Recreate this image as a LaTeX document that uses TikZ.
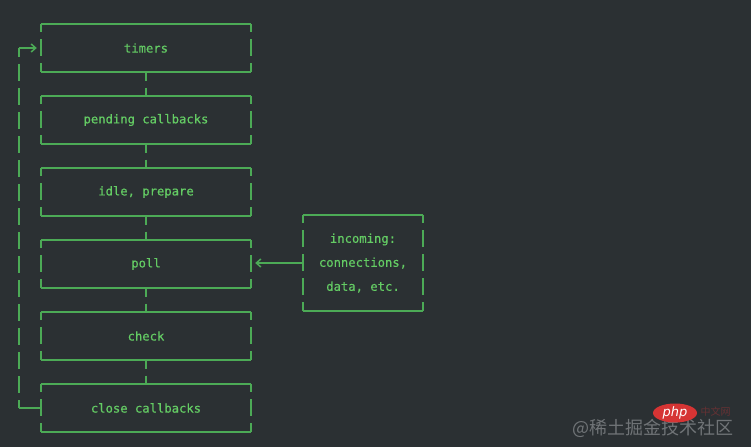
\documentclass[tikz,border=0pt]{standalone}
\usepackage{fontspec}
\newfontfamily\monofont[FakeBold=0.35]{DejaVu Sans Mono}
\newfontfamily\cjkfont{Noto Sans CJK SC}
\newfontfamily\logofont{DejaVu Sans}
\usetikzlibrary{arrows.meta,shapes.geometric}
\definecolor{bgcol}{RGB}{43,48,51}
\definecolor{linecol}{RGB}{76,170,86}
\definecolor{textcol}{RGB}{100,204,100}
\definecolor{wmgray}{RGB}{112,116,119}
\definecolor{phpred}{RGB}{214,52,52}
\tikzset{
  frame/.style={draw=linecol, line width=2pt},
  sidedash/.style={draw=linecol, line width=2pt, dash pattern=on 17pt off 7pt, dash phase=8.5pt},
  stage/.style={draw=none, minimum width=210pt, minimum height=48pt, inner sep=0pt,
    text=textcol, font=\monofont\fontsize{12.2}{24}\selectfont},
  srcbox/.style={draw=none, minimum width=120pt, minimum height=96pt, inner sep=0pt,
    text=textcol, align=center, font=\monofont\fontsize{12.2}{24}\selectfont},
  chevron/.style={-{Straight Barb[length=4.5pt,width=8pt,line width=1.5pt]}}
}
\begin{document}
\begin{tikzpicture}[x=1pt,y=-1pt]
\fill[bgcol] (0,0) rectangle (751,447);
\useasboundingbox (0,0) rectangle (751,447);

\node[stage] (timers)  at (146,48)  {timers};
\node[stage] (pending) at (146,120) {pending callbacks};
\node[stage] (idle)    at (146,192) {idle, prepare};
\node[stage] (poll)    at (146,264) {poll};
\node[stage] (check)   at (146,336) {check};
\node[stage] (close)   at (146,408) {close callbacks};
\node[srcbox] (incoming) at (363,263) {incoming:\\connections,\\data, etc.};

\foreach \n in {timers,pending,idle,poll,check,close,incoming}{
  \draw[frame] (\n.north west) -- (\n.north east);
  \draw[frame] (\n.south west) -- (\n.south east);
  \draw[sidedash] (\n.north west) -- (\n.south west);
  \draw[sidedash] (\n.north east) -- (\n.south east);
}

\draw[sidedash] (timers.south) -- (pending.north);
\draw[sidedash] (pending.south) -- (idle.north);
\draw[sidedash] (idle.south) -- (poll.north);
\draw[sidedash] (poll.south) -- (check.north);
\draw[sidedash] (check.south) -- (close.north);

\coordinate (loopbot) at (19,408);
\coordinate (looptop) at (19,48);
\draw[frame] (close.west) -- (loopbot);
\draw[sidedash] (loopbot) -- (looptop);
\draw[frame,chevron,shorten >=4pt] (looptop) -- (timers.west);

\draw[frame,chevron,shorten >=4pt] (incoming.west) -- (poll.east |- incoming.west);

% watermark
\node[text=wmgray, font=\cjkfont\fontsize{18}{20}\selectfont, anchor=east] (wm) at (737,428) {@稀土掘金技术社区};
\node[ellipse, fill=phpred, minimum width=44pt, minimum height=19pt, inner sep=0pt,
  text=white, font=\logofont\itshape\fontsize{13}{13}\selectfont] (php) at (675,413) {php};
\node[text=phpred, opacity=0.35, font=\cjkfont\fontsize{10}{10}\selectfont, anchor=west] (cn) at (697,412) {中文网};
\end{tikzpicture}
\end{document}
